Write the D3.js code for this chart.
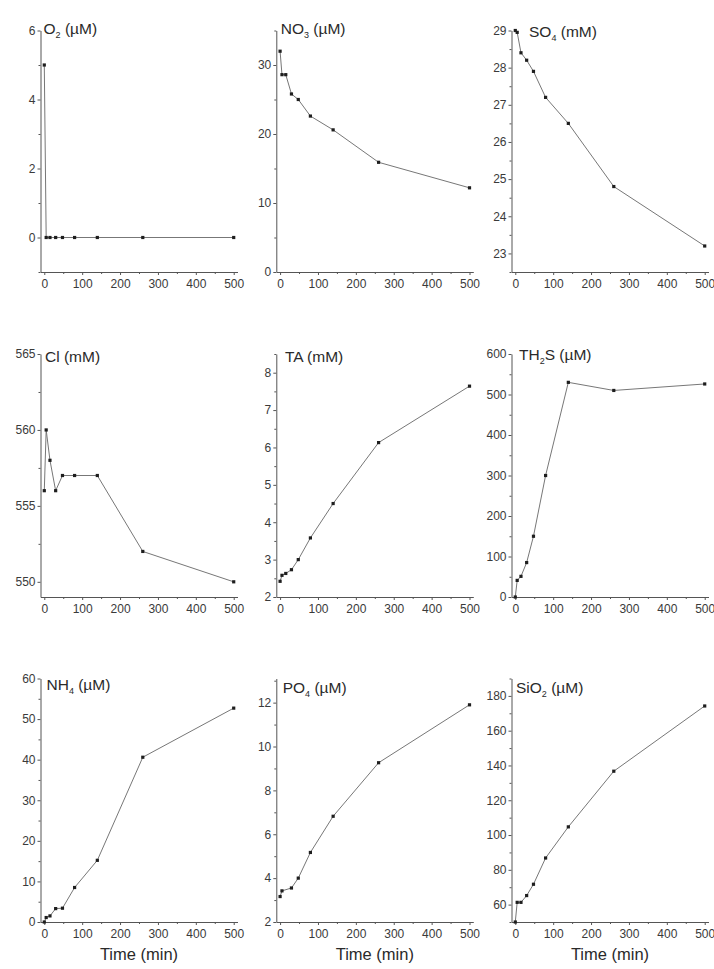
<!DOCTYPE html>
<html>
<head>
<meta charset="utf-8">
<script src="https://cdn.jsdelivr.net/npm/d3@7"></script>
<style>
  body { margin: 0; background: #fff; }
  svg { display: block; }
  text { font-family: "Liberation Sans", Arial, sans-serif; }
</style>
</head>
<body>
<svg id="chart" width="714" height="969"></svg>
<script>
// Sampling times (min) shared by every panel
const times = [0, 5, 15, 30, 48, 80, 140, 260, 500];

// Measured concentrations at each sampling time (null = not measured)
const o2   = [5, 0, 0, 0, 0, 0, 0, 0, 0];
const no3  = [32, 28.6, 28.6, 25.8, 25, 22.6, 20.6, 15.9, 12.2];
const so4  = [29.0, 28.95, 28.4, 28.2, 27.9, 27.2, 26.5, 24.8, 23.2];
const cl   = [556, 560, 558, 556, 557, 557, 557, 552, 550];
const ta   = [2.42, 2.58, 2.63, 2.73, 3.0, 3.58, 4.5, 6.13, 7.64];
const th2s = [0, 41, 51, 85, 150, 300, 530, 510, 526];
const nh4  = [0, 1.1, 1.5, 3.3, 3.4, 8.5, 15.2, 40.6, 52.7];
const po4  = [3.16, 3.42, null, 3.55, 4.0, 5.17, 6.82, 9.26, 11.9];
const sio2 = [50, 61.3, 61.3, 65.2, 71.7, 86.8, 104.7, 136.7, 174.2];

// Tick labels
const xTicks = [0, 100, 200, 300, 400, 500];
const xLabel = "Time (min)";

// One entry per panel: title pieces, series, value range and labelled ticks
const panels = [
  { name: "O",   sub: "2", rest: "",  unit: " (µM)", values: o2,   yDomain: [-1, 6],     yTicks: [0, 2, 4, 6] },
  { name: "NO",  sub: "3", rest: "",  unit: " (µM)", values: no3,  yDomain: [0, 35],     yTicks: [0, 10, 20, 30] },
  { name: "SO",  sub: "4", rest: "",  unit: " (mM)", values: so4,  yDomain: [22.5, 29],  yTicks: [23, 24, 25, 26, 27, 28, 29] },
  { name: "Cl",  sub: "",  rest: "",  unit: " (mM)", values: cl,   yDomain: [549, 565],  yTicks: [550, 555, 560, 565] },
  { name: "TA",  sub: "",  rest: "",  unit: " (mM)", values: ta,   yDomain: [2, 8.5],    yTicks: [2, 3, 4, 5, 6, 7, 8] },
  { name: "TH",  sub: "2", rest: "S", unit: " (µM)", values: th2s, yDomain: [0, 600],    yTicks: [0, 100, 200, 300, 400, 500, 600] },
  { name: "NH",  sub: "4", rest: "",  unit: " (µM)", values: nh4,  yDomain: [0, 60],     yTicks: [0, 10, 20, 30, 40, 50, 60] },
  { name: "PO",  sub: "4", rest: "",  unit: " (µM)", values: po4,  yDomain: [2, 13.1],   yTicks: [2, 4, 6, 8, 10, 12] },
  { name: "SiO", sub: "2", rest: "",  unit: " (µM)", values: sio2, yDomain: [50, 190],   yTicks: [60, 80, 100, 120, 140, 160, 180] }
];

// Grid layout (pixels)
const colX = [40.5, 276.3, 511.5];
const plotW = 197;
const rowTop = [30.5, 354, 678.5];
const rowBottom = [272, 597, 922];
const titleOffset = [[3, 3.5], [4.5, 3], [17.5, 6.5], [4.5, 7.7], [8.7, 7.7], [7.5, 6], [6, 11.5], [6.4, 14.8], [4.5, 14.8]];

const svg = d3.select("#chart");
svg.append("rect").attr("width", 714).attr("height", 969).attr("fill", "#fff");

const axisColor = "#555";
const labelColor = "#3a3a3a";
const plain = d => String(d);

panels.forEach((p, i) => {
  const col = i % 3, row = Math.floor(i / 3);
  const left = colX[col], top = rowTop[row], bottom = rowBottom[row];

  const x = d3.scaleLinear().domain([-10, 510]).range([left, left + plotW]);
  const y = d3.scaleLinear().domain(p.yDomain).range([bottom, top]);

  const g = svg.append("g");

  // minor ticks halfway between labelled ticks
  const yStep = p.yTicks[1] - p.yTicks[0];
  const yMinor = d3.range(p.yTicks[0] - yStep / 2, p.yDomain[1] + 1e-9, yStep)
    .filter(v => v >= p.yDomain[0] - 1e-9 && v <= p.yDomain[1] + 1e-9 && !p.yTicks.includes(v));
  const xMinor = [50, 150, 250, 350, 450];

  // y axis
  g.append("g").attr("transform", `translate(${left},0)`)
    .call(d3.axisLeft(y).tickValues(p.yTicks).tickFormat(plain).tickSize(3).tickSizeOuter(0).tickPadding(2));
  g.append("g").attr("transform", `translate(${left},0)`)
    .call(d3.axisLeft(y).tickValues(yMinor).tickSize(2).tickFormat(""))
    .call(a => a.select(".domain").remove());

  // x axis
  g.append("g").attr("transform", `translate(0,${bottom})`)
    .call(d3.axisBottom(x).tickValues(xTicks).tickFormat(plain).tickSize(3).tickSizeOuter(0).tickPadding(4.5));
  g.append("g").attr("transform", `translate(0,${bottom})`)
    .call(d3.axisBottom(x).tickValues(xMinor).tickSize(2).tickFormat(""))
    .call(a => a.select(".domain").remove());

  g.selectAll(".domain, .tick line").attr("stroke", axisColor).attr("stroke-width", 1);
  g.selectAll(".tick text").attr("fill", labelColor).attr("font-size", 12)
    .attr("font-family", '"Liberation Sans", Arial, sans-serif');

  // series
  const pts = times.map((t, k) => ({ t, v: p.values[k] })).filter(d => d.v !== null);
  const line = d3.line().x(d => x(d.t)).y(d => y(d.v));
  g.append("path").datum(pts).attr("d", line)
    .attr("fill", "none").attr("stroke", "#777").attr("stroke-width", 1);
  g.selectAll("rect.pt").data(pts).join("rect").attr("class", "pt")
    .attr("x", d => x(d.t) - 1.6).attr("y", d => y(d.v) - 1.6)
    .attr("width", 3.2).attr("height", 3.2).attr("fill", "#1e1e1e");

  // panel title with subscript
  const [dx, dy] = titleOffset[i];
  const title = g.append("text").attr("x", left + dx).attr("y", top + dy)
    .attr("font-size", 15.5).attr("fill", "#2a2a2a");
  title.append("tspan").text(p.name);
  if (p.sub) {
    title.append("tspan").attr("font-size", 9).attr("dy", 4).text(p.sub);
    title.append("tspan").attr("dy", -4).text(p.rest + p.unit);
  } else {
    title.append("tspan").text(p.unit);
  }

  // shared time axis label on the bottom row
  if (row === 2) {
    g.append("text").attr("x", left + plotW / 2).attr("y", 960)
      .attr("text-anchor", "middle").attr("font-size", 16.5).attr("fill", "#2a2a2a")
      .text(xLabel);
  }
});
</script>
</body>
</html>
